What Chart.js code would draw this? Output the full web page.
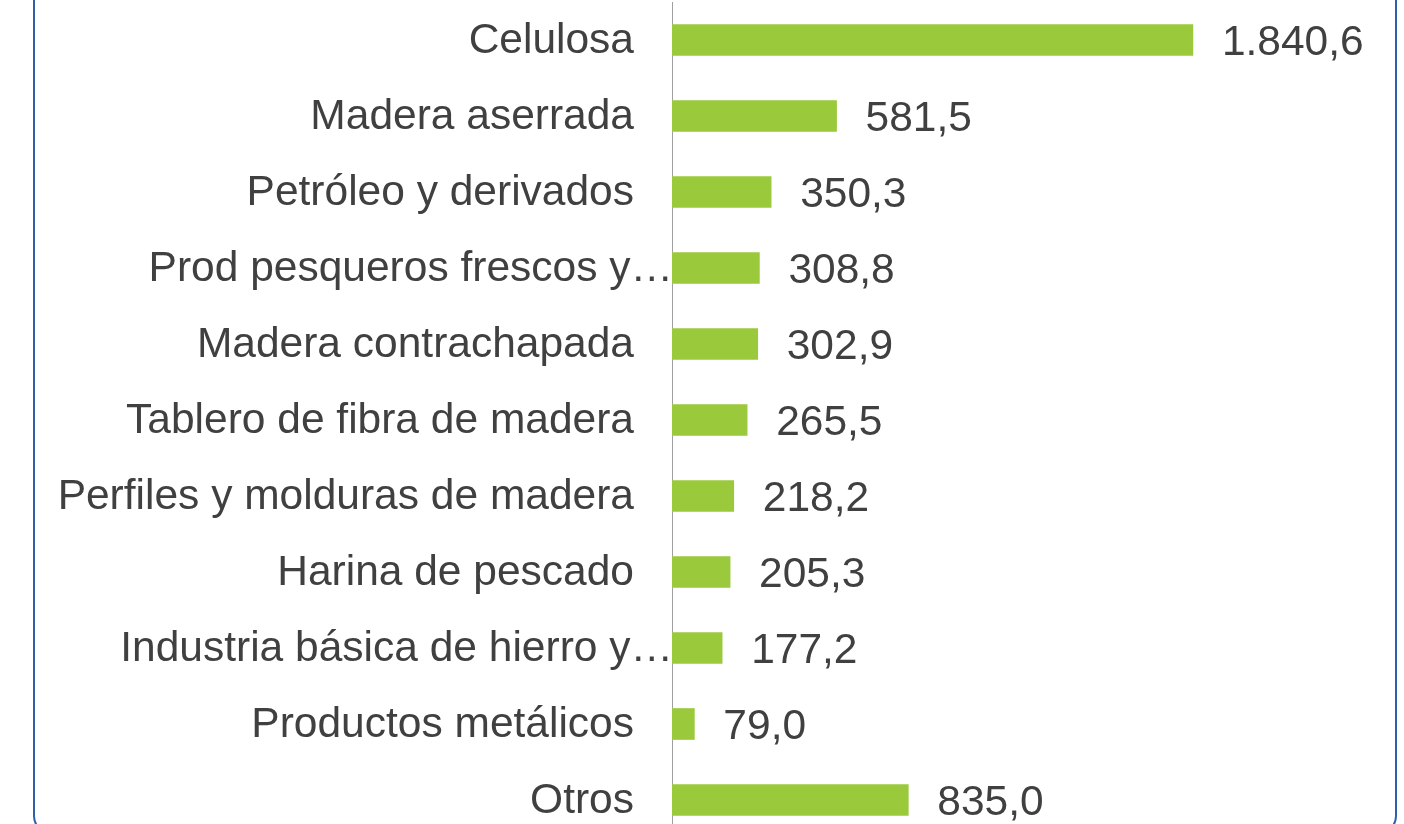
<!DOCTYPE html>
<html>
<head>
<meta charset="utf-8">
<script src="https://cdn.jsdelivr.net/npm/chart.js@4"></script>
<style>
  html, body { margin: 0; padding: 0; background: #ffffff; overflow: hidden; }
  #wrap { position: relative; width: 1404px; height: 824px; overflow: hidden; }
  #frame { position: absolute; left: 33px; top: -30px; width: 1364px; height: 864px;
           border: 2px solid #2f5fa8; border-radius: 18px; box-sizing: border-box; }
  #holder { position: absolute; left: 0; top: 0; width: 1404px; height: 850px; }
</style>
</head>
<body>
<div id="wrap">
  <div id="frame"></div>
  <div id="holder"><canvas id="c"></canvas></div>
</div>
<script>
const categories = [
  "Celulosa",
  "Madera aserrada",
  "Petróleo y derivados",
  "Prod pesqueros frescos y…",
  "Madera contrachapada",
  "Tablero de fibra de madera",
  "Perfiles y molduras de madera",
  "Harina de pescado",
  "Industria básica de hierro y…",
  "Productos metálicos",
  "Otros"
];
const values = [1840.6, 581.5, 350.3, 308.8, 302.9, 265.5, 218.2, 205.3, 177.2, 79.0, 835.0];

const FONT = '42.5px "Liberation Sans", Arial, sans-serif';
const TEXT_COLOR = '#404040';

function fmt(v) {
  const parts = v.toFixed(1).split('.');
  const intPart = parts[0].replace(/\B(?=(\d{3})+(?!\d))/g, '.');
  return intPart + ',' + parts[1];
}

const labelPlugin = {
  id: 'labelPlugin',
  afterDraw(chart) {
    const ctx = chart.ctx;
    const yScale = chart.scales.y;
    const meta = chart.getDatasetMeta(0);
    ctx.save();
    ctx.font = FONT;
    ctx.fillStyle = TEXT_COLOR;
    ctx.textBaseline = 'middle';
    categories.forEach((lab, i) => {
      const y = yScale.getPixelForValue(i);
      ctx.textAlign = 'right';
      const x = lab.endsWith('…') ? chart.chartArea.left + 1 : chart.chartArea.left - 38;
      ctx.fillText(lab, x, y + 1);
    });
    meta.data.forEach((bar, i) => {
      ctx.textAlign = 'left';
      ctx.fillText(fmt(values[i]), bar.x + 29, bar.y + 3);
    });
    ctx.restore();
  }
};

new Chart(document.getElementById('c'), {
  type: 'bar',
  data: {
    labels: categories,
    datasets: [{
      data: values,
      backgroundColor: '#9aca3c',
      borderWidth: 0,
      barThickness: 31
    }]
  },
  options: {
    indexAxis: 'y',
    responsive: true,
    maintainAspectRatio: false,
    animation: false,
    layout: { padding: { top: 2, bottom: 12, left: 0, right: 166 } },
    plugins: { legend: { display: false }, tooltip: { enabled: false } },
    scales: {
      x: {
        display: false,
        min: 0,
        max: 2000
      },
      y: {
        display: true,
        grid: { display: false, drawTicks: false },
        border: { display: true, color: '#a0a0a0', width: 1 },
        ticks: { display: false },
        afterFit(s) { s.width = 672; }
      }
    }
  },
  plugins: [labelPlugin]
});
</script>
</body>
</html>
